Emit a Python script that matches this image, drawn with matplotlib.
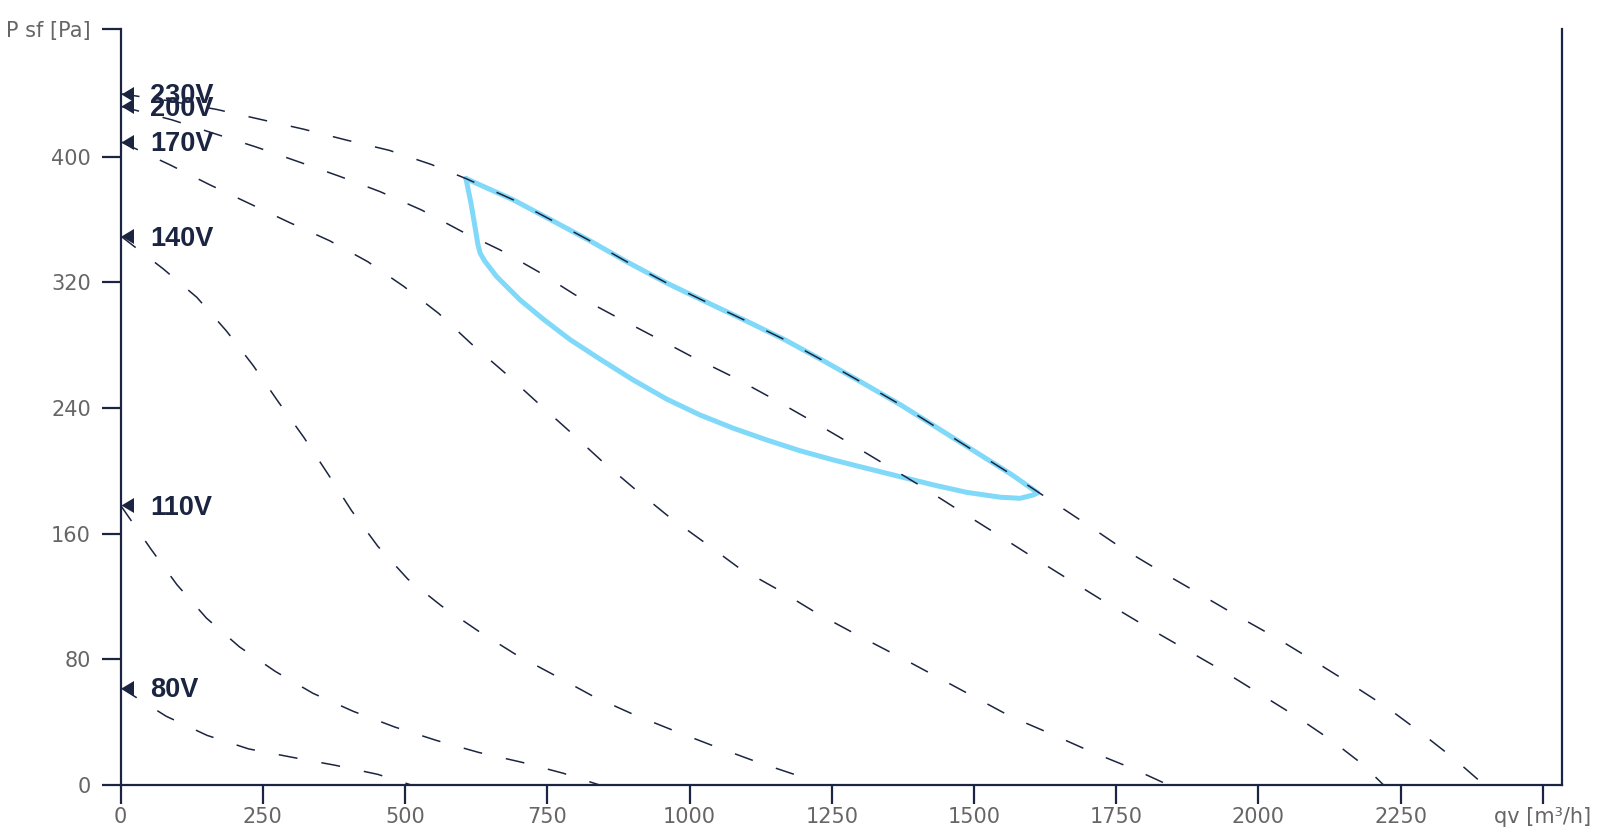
import matplotlib
matplotlib.use("Agg")
import matplotlib.pyplot as plt

plt.rcParams['lines.scale_dashes'] = False
plt.rcParams['font.family'] = ['DejaVu Sans']

# ---- data ----
labels = ["230V", "200V", "170V", "140V", "110V", "80V"]

x_230 = [0, 85, 169, 248, 321, 397, 472, 546, 607, 690, 755, 822, 890, 960, 1029, 1099, 1168, 1238,
         1304, 1371, 1437, 1502, 1567, 1630, 1697, 1759, 1827, 1893, 1960, 2028, 2093, 2159, 2224,
         2285, 2343, 2397]
y_230 = [440, 435.5, 430, 423.5, 417.5, 410.5, 404, 395, 386, 372.5, 360, 347, 333, 319.5, 307.5, 295.5,
         283.3, 269.5, 256, 242, 227, 212.2, 197.4, 182.3, 166.2, 151, 136.2, 122.4, 108.2, 94.4, 80,
         65.1, 49.9, 33.5, 17, 0]

x_200 = [0, 90, 166, 239, 312, 386, 456, 529, 600, 667, 734, 799, 866, 935, 1004, 1073, 1142, 1209,
         1275, 1342, 1408, 1473, 1538, 1602, 1668, 1734, 1803, 1869, 1935, 2001, 2067, 2130, 2182, 2220]
y_200 = [432, 423.4, 414.5, 406, 396.8, 387.3, 377.7, 366, 352.3, 340.6, 326.8, 312, 299, 285.9, 272.7,
         260.4, 246.8, 233, 219, 204.4, 190, 175, 160.2, 145.4, 130.5, 115.7, 100.8, 87, 73.2, 58.4,
         43.5, 28, 13.5, 0]

x_170 = [0, 87, 157, 227, 297, 367, 434, 498, 559, 616, 675, 731, 788, 845, 903, 963, 1024, 1085,
         1157, 1224, 1300, 1380, 1470, 1565, 1637, 1706, 1778, 1842]
y_170 = [409.5, 394.7, 382, 370, 358, 346.5, 333.2, 317.3, 300.2, 281, 262.5, 244, 225.5, 206.5,
         188.7, 171, 155, 138.7, 124.1, 109.3, 94.5, 79.5, 62, 43.5, 32.3, 21.2, 10.6, 0]

x_140 = [0, 75, 134, 186, 233, 277, 322, 364, 406, 452, 505, 564, 628, 695, 762, 830, 901, 974,
         1042, 1117, 1193, 1222]
y_140 = [349.5, 328.5, 310.4, 289, 267, 244, 221.3, 198.2, 174.6, 152, 131, 114, 98.2, 83, 70, 56.6,
         45, 34.4, 24.9, 14.9, 5.7, 0]

x_110 = [0, 53, 99, 151, 209, 272, 338, 409, 482, 556, 630, 705, 778, 842]
y_110 = [178, 150.3, 127.5, 106.2, 87.9, 72.3, 58.4, 46.9, 36.9, 28.3, 20.7, 14.5, 7.5, 0]

x_80 = [0, 80, 152, 225, 301, 377, 452, 511]
y_80 = [62, 43.8, 31.6, 23, 17.7, 12.6, 6.8, 0]

blue_x = [607, 690, 755, 822, 890, 960, 1029, 1099, 1168, 1238, 1304, 1371, 1437, 1502, 1567, 1612,
          1604, 1581, 1546, 1487, 1429, 1370, 1311, 1253, 1194, 1136, 1077, 1018, 960, 901, 843,
          790, 743, 702, 661, 640, 632, 628, 623, 616, 607]
blue_y = [386, 372.5, 360, 347, 333, 319.5, 307.5, 295.5, 283.3, 269.5, 256, 242, 227, 212.2, 197.4,
          186, 184.6, 182.5, 183.2, 186.3, 191, 196.3, 201.6, 206.9, 212.8, 219.6, 227.1, 235.6,
          245.6, 257.8, 271, 283.5, 296.5, 308.8, 323.6, 333.5, 338.5, 344, 355, 370, 386]

x_ticks = [0, 250, 500, 750, 1000, 1250, 1500, 1750, 2000, 2250, 2500]
x_ticklabels = ["0", "250", "500", "750", "1000", "1250", "1500", "1750", "2000", "2250", "qv [m³/h]"]
y_ticks = [0, 80, 160, 240, 320, 400, 481]
y_ticklabels = ["0", "80", "160", "240", "320", "400", "P sf [Pa]"]

curves_x = [x_230, x_200, x_170, x_140, x_110, x_80]
curves_y = [y_230, y_200, y_170, y_140, y_110, y_80]

# ---- style ----
NAVY = "#1b2541"
BLUE = "#80d9f8"
GRAY = "#666666"

fig = plt.figure(figsize=(16.02, 8.38), dpi=100)
ax = fig.add_axes([0.0753, 0.0632, 0.9752 - 0.0753, 0.965 - 0.0632])

ax.plot(blue_x, blue_y, color=BLUE, lw=3.6, solid_joinstyle='round', solid_capstyle='round', zorder=2)

tri = [(0, 0), (1, 0.6), (1, -0.6)]
for cx, cy, lab in zip(curves_x, curves_y, labels):
    ax.plot(cx, cy, color=NAVY, lw=1.1, dashes=(13.7, 17.5), zorder=3)
    ax.plot([cx[0]], [cy[0]], marker=tri, markersize=18, color=NAVY, mew=0,
            clip_on=False, zorder=5, linestyle='none')
    ax.annotate(lab, xy=(cx[0], cy[0]), xytext=(21, -7), textcoords='offset points',
                ha='left', va='baseline', fontsize=19.5, fontweight='bold', color=NAVY,
                family=['Liberation Sans', 'DejaVu Sans'], zorder=6, annotation_clip=False)

ax.set_xlim(0, 2534)
ax.set_ylim(0, 481)
ax.set_xticks(x_ticks)
ax.set_xticklabels(x_ticklabels)
ax.set_yticks(y_ticks)
ax.set_yticklabels(y_ticklabels)

for s in ['left', 'bottom', 'right']:
    ax.spines[s].set_color(NAVY)
    ax.spines[s].set_linewidth(1.6)
ax.spines['top'].set_visible(False)

ax.tick_params(axis='both', colors=NAVY, labelcolor=GRAY, labelsize=15,
               length=13.5, width=1.6, direction='out')
ax.tick_params(axis='x', pad=2)
ax.tick_params(axis='y', pad=8)

fig.savefig("out.png", dpi=100)
